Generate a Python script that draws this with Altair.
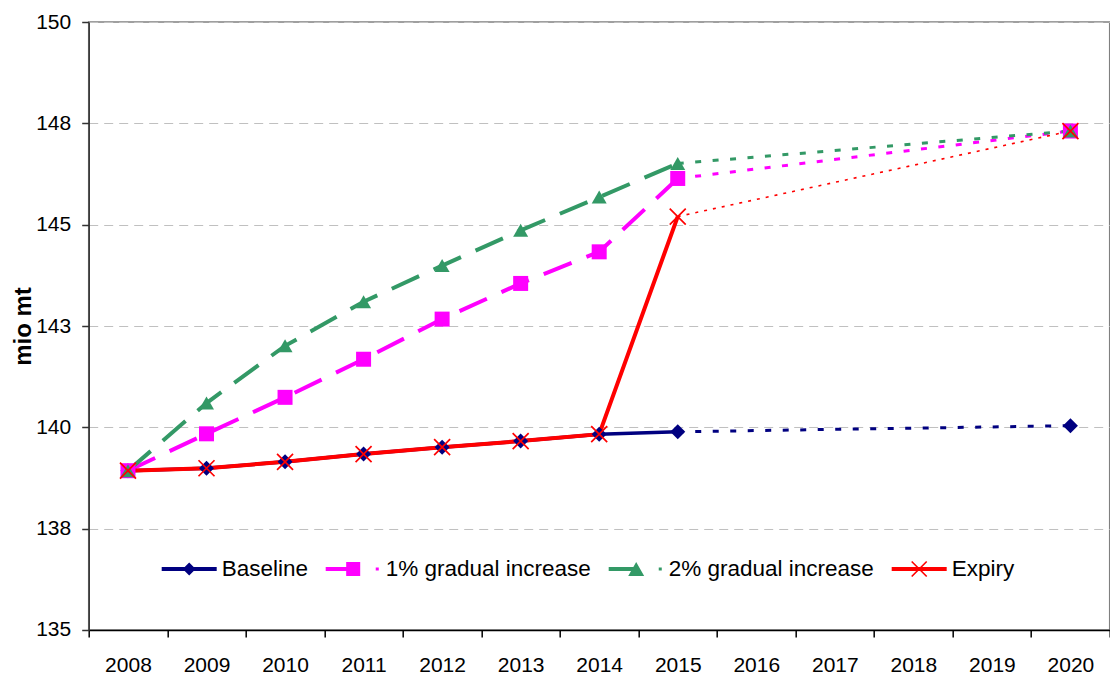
import altair as alt
import pandas as pd

# ---------------- data ----------------
years = [str(y) for y in range(2008, 2021)]
data_years = ["2008", "2009", "2010", "2011", "2012", "2013", "2014", "2015", "2020"]
series_names = ["Baseline", "1% gradual increase", "2% gradual increase", "Expiry"]
baseline = [138.93, 138.99, 139.15, 139.34, 139.51, 139.66, 139.83, 139.89, 140.04]
pct1 = [138.93, 139.84, 140.74, 141.68, 142.67, 143.55, 144.33, 146.14, 147.31]
pct2 = [138.93, 140.60, 142.01, 143.10, 143.99, 144.86, 145.68, 146.51, 147.31]
expiry = [138.93, 138.99, 139.15, 139.34, 139.51, 139.66, 139.83, 145.20, 147.31]
y_ticks = [135, 137.5, 140, 142.5, 145, 147.5, 150]
colors = ["#000080", "#FF00FF", "#339966", "#FF0000"]

rows = []
for name, vals in zip(series_names, [baseline, pct1, pct2, expiry]):
    for yr, v in zip(data_years, vals):
        rows.append({"series": name, "year": yr, "value": v,
                     "solid": int(yr) <= 2015, "dotted": int(yr) >= 2015})
df = pd.DataFrame(rows)

FONT = "Liberation Sans, Arial, sans-serif"

# ---------------- styles ----------------
styles = {
    "Baseline": dict(color=colors[0], dash=None, width=3.5, dot=[6, 11.5], dotw=3),
    "1% gradual increase": dict(color=colors[1], dash=[30, 16], width=4, dot=[6, 11.5], dotw=3),
    "2% gradual increase": dict(color=colors[2], dash=[30, 16], width=4, dot=[6, 11.5], dotw=3),
    "Expiry": dict(color=colors[3], dash=None, width=4, dot=[3, 6], dotw=1.6),
}

x_enc = alt.X(
    "year:O",
    scale=alt.Scale(type="band", domain=years, paddingInner=0, paddingOuter=0),
    axis=alt.Axis(title=None, labelAngle=0, labelFont=FONT, labelFontSize=21,
                  labelColor="black", labelPadding=18, tickBand="extent",
                  tickSize=7, tickWidth=1.5, tickColor="black", domainColor="black",
                  domainWidth=1.5, grid=False),
)
y_enc = alt.Y(
    "value:Q",
    scale=alt.Scale(domain=[135, 150], nice=False, zero=False),
    axis=alt.Axis(values=y_ticks, labelExpr="round(datum.value)", title="mio mt",
                  titleFont=FONT, titleFontSize=24, titleFontWeight="bold",
                  titleColor="black", titleX=-53, titleY=304,
                  labelFont=FONT, labelFontSize=21, labelColor="black",
                  labelPadding=11, tickSize=7, tickWidth=1.5, tickColor="#333333",
                  domainColor="#333333", domainWidth=1.5,
                  grid=True, gridColor="#c0c0c0", gridDash=[9, 6], gridWidth=1),
)

base = alt.Chart(df).encode(x=x_enc, y=y_enc)

layers = []
# lines: solid parts then dotted extensions
for name in series_names:
    s = styles[name]
    kw = dict(color=s["color"], strokeWidth=s["width"])
    if s["dash"]:
        kw["strokeDash"] = s["dash"]
    layers.append(base.transform_filter(
        (alt.datum.series == name) & (alt.datum.solid == True)).mark_line(**kw))
    layers.append(base.transform_filter(
        (alt.datum.series == name) & (alt.datum.dotted == True)).mark_line(
        color=s["color"], strokeWidth=s["dotw"], strokeDash=s["dot"]))

# markers
marker_defs = {
    "Baseline": dict(shape="diamond", filled=True, size=225),
    "1% gradual increase": dict(shape="square", filled=True, size=225),
    "2% gradual increase": dict(shape="triangle-up", filled=True, size=225),
    "Expiry": dict(shape="M-1,-1L1,1M-1,1L1,-1", filled=False, size=256, strokeWidth=1.7),
}
for name in series_names:
    m = marker_defs[name]
    layers.append(base.transform_filter(alt.datum.series == name).mark_point(
        color=styles[name]["color"], opacity=1, **m))

# legend (symbols as line + marker paths)
legend_paths = [
    "M-1,-0.073H1V0.073H-1Z M0,-0.236L0.236,0L0,0.236L-0.236,0Z",
    "M-1,-0.073H0V0.073H-1Z M-0.255,-0.255H0.255V0.255H-0.255Z M0.82,-0.055H0.93V0.055H0.82Z",
    "M-1,-0.073H0V0.073H-1Z M0,-0.252L0.29,0.252L-0.29,0.252Z M0.82,-0.055H0.93V0.055H0.82Z",
    "M-1,-0.073H1V0.073H-1Z M-0.252,-0.294L0.294,0.252L0.252,0.294L-0.294,-0.252Z "
    "M-0.252,0.294L-0.294,0.252L0.252,-0.294L0.294,-0.252Z",
]
leg = alt.Legend(title=None, orient="none", direction="horizontal",
                 legendX=73, legendY=519.5, padding=0,
                 symbolSize=3025, symbolStrokeWidth=0, symbolOpacity=1,
                 labelFont=FONT, labelFontSize=22.5, labelColor="black",
                 labelOffset=5, columnPadding=17, labelLimit=400)
leg_df = pd.DataFrame({"series": series_names})
legend_layer = alt.Chart(leg_df).mark_point(filled=True, opacity=0).encode(
    color=alt.Color("series:N", scale=alt.Scale(domain=series_names, range=colors), legend=leg),
    shape=alt.Shape("series:N", scale=alt.Scale(domain=series_names, range=legend_paths), legend=leg),
)
layers.append(legend_layer)

chart = alt.layer(*layers).properties(
    width=1021, height=608,
    autosize=alt.AutoSizeParams(type="none"),
    padding={"left": 80.7, "top": 14, "right": 0, "bottom": 46},
    background="white",
).configure_view(stroke="#808080", strokeWidth=1.5)

chart.save("out.html", embed_options={"renderer": "svg", "actions": False})
